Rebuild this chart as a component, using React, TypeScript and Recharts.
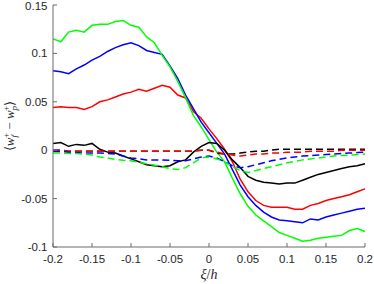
import { LineChart, Line, XAxis, YAxis } from "recharts";

// streamwise position ξ/h
const XI = [
  -0.2, -0.19, -0.18, -0.17, -0.16, -0.15, -0.14, -0.13, -0.12, -0.11, -0.1,
  -0.09, -0.08, -0.07, -0.06, -0.05, -0.04, -0.03, -0.02, -0.01, 0,
  0.01, 0.02, 0.03, 0.04, 0.05, 0.06, 0.07, 0.08, 0.09, 0.1,
  0.11, 0.12, 0.13, 0.14, 0.15, 0.16, 0.17, 0.18, 0.19, 0.2,
];

const GREEN_SOLID = [
  0.115, 0.112, 0.122, 0.124, 0.122, 0.129, 0.13, 0.13, 0.133, 0.134, 0.129,
  0.127, 0.117, 0.111, 0.098, 0.086, 0.071, 0.054, 0.036, 0.024, 0.011,
  -0.002, -0.012, -0.029, -0.045, -0.058, -0.067, -0.073, -0.079, -0.085, -0.088,
  -0.091, -0.094, -0.093, -0.091, -0.09, -0.089, -0.088, -0.083, -0.081, -0.084,
];

const BLUE_SOLID = [
  0.082, 0.081, 0.079, 0.084, 0.088, 0.093, 0.097, 0.102, 0.106, 0.109, 0.111,
  0.108, 0.103, 0.101, 0.099, 0.087, 0.074, 0.057, 0.043, 0.029, 0.018,
  0.007, -0.004, -0.02, -0.036, -0.048, -0.057, -0.064, -0.069, -0.072, -0.073,
  -0.074, -0.075, -0.071, -0.072, -0.069, -0.067, -0.065, -0.063, -0.061, -0.06,
];

const RED_SOLID = [
  0.044, 0.045, 0.044, 0.044, 0.042, 0.045, 0.05, 0.052, 0.055, 0.058, 0.06,
  0.063, 0.061, 0.064, 0.067, 0.065, 0.057, 0.054, 0.04, 0.033, 0.022,
  0.012, 0.001, -0.012, -0.03, -0.043, -0.052, -0.057, -0.059, -0.059, -0.059,
  -0.061, -0.061, -0.057, -0.055, -0.052, -0.05, -0.048, -0.046, -0.043, -0.04,
];

const BLACK_SOLID = [
  0.007, 0.008, 0.004, 0.006, 0.005, 0.007, 0.001, -0.002, -0.003, -0.006, -0.009,
  -0.012, -0.015, -0.016, -0.017, -0.016, -0.012, -0.01, -0.002, 0.004, 0.008,
  0.007, 0.0, -0.01, -0.018, -0.027, -0.031, -0.033, -0.034, -0.035, -0.034,
  -0.034, -0.031, -0.028, -0.025, -0.023, -0.021, -0.019, -0.017, -0.016, -0.014,
];

const BLACK_DASHED = [
  0, 0, -0.001, -0.001, -0.001, -0.001, -0.001, -0.001, -0.001, -0.001, -0.001,
  -0.001, -0.001, -0.001, -0.001, -0.001, -0.001, -0.001, -0.001, 0, 0,
  -0.003, -0.004, -0.004, -0.003, -0.002, -0.001, -0.001, 0, 0.001, 0.001,
  0.001, 0.001, 0.001, 0.001, 0.001, 0.001, 0.001, 0.001, 0.001, 0.001,
];

const RED_DASHED = [
  0, 0, -0.001, -0.001, -0.001, -0.001, -0.001, -0.001, -0.001, -0.001, -0.001,
  -0.001, -0.001, -0.001, -0.001, -0.001, -0.001, -0.001, -0.001, 0, 0,
  -0.002, -0.004, -0.005, -0.006, -0.005, -0.004, -0.004, -0.003, -0.003, -0.002,
  -0.002, -0.002, -0.001, -0.001, -0.001, -0.001, 0, 0, 0, 0,
];

const BLUE_DASHED = [
  -0.001, -0.0015, -0.002, -0.0025, -0.003, -0.003, -0.003, -0.0035, -0.004, -0.006, -0.008,
  -0.009, -0.01, -0.01, -0.01, -0.0105, -0.011, -0.011, -0.009, -0.007, -0.006,
  -0.008, -0.012, -0.016, -0.018, -0.017, -0.015, -0.013, -0.011, -0.0095, -0.008,
  -0.007, -0.006, -0.0055, -0.005, -0.0045, -0.004, -0.0035, -0.003, -0.0025, -0.002,
];

const GREEN_DASHED = [
  -0.003, -0.003, -0.0035, -0.0035, -0.004, -0.005, -0.007, -0.008, -0.0095, -0.0105, -0.011,
  -0.0125, -0.014, -0.0155, -0.017, -0.019, -0.02, -0.018, -0.013, -0.008, -0.007,
  -0.009, -0.012, -0.017, -0.021, -0.023, -0.021, -0.019, -0.017, -0.015, -0.013,
  -0.0115, -0.01, -0.009, -0.008, -0.007, -0.006, -0.0055, -0.005, -0.0045, -0.004,
];

const X_TICKS = [-0.2, -0.15, -0.1, -0.05, 0, 0.05, 0.1, 0.15, 0.2];
const Y_TICKS = [-0.1, -0.05, 0, 0.05, 0.1, 0.15];

const data = XI.map((xi, i) => ({
  xi,
  gs: GREEN_SOLID[i],
  bs: BLUE_SOLID[i],
  rs: RED_SOLID[i],
  ks: BLACK_SOLID[i],
  kd: BLACK_DASHED[i],
  rd: RED_DASHED[i],
  bd: BLUE_DASHED[i],
  gd: GREEN_DASHED[i],
}));

const AXIS_COLOR = "#6b6b6b";
const TEXT_COLOR = "#262626";
const tickFont = { fontSize: 11.5, fill: TEXT_COLOR, fontFamily: "'Liberation Sans', Arial, sans-serif" };
const fmt = (v: number) => String(v);
const blank = () => "";

function YLabel() {
  return (
    <text
      transform="translate(14,126) rotate(-90)"
      textAnchor="middle"
      fontFamily="'Liberation Serif', serif"
      fontSize={13}
      fill={TEXT_COLOR}
    >
      <tspan>⟨</tspan>
      <tspan fontStyle="italic">w</tspan>
      <tspan fontStyle="italic" fontSize={9} dy={3}>f</tspan>
      <tspan fontSize={9} dx={-3} dy={-8}>+</tspan>
      <tspan dy={5}> − </tspan>
      <tspan fontStyle="italic">w</tspan>
      <tspan fontStyle="italic" fontSize={9} dy={3}>p</tspan>
      <tspan fontSize={9} dx={-5} dy={-8}>+</tspan>
      <tspan dy={5}>⟩</tspan>
    </text>
  );
}

function XLabel() {
  return (
    <text x={209} y={279} textAnchor="middle" fontFamily="'Liberation Serif', serif" fontSize={14} fill={TEXT_COLOR}>
      <tspan fontStyle="italic">ξ</tspan>
      <tspan>/</tspan>
      <tspan fontStyle="italic">h</tspan>
    </text>
  );
}

export default function App() {
  const solid = { type: "linear" as const, dot: false, strokeWidth: 1.5, isAnimationActive: false };
  const dashed = { ...solid, strokeDasharray: "7 4" };
  return (
    <div style={{ position: "absolute", left: 0, top: 0, width: 374, height: 284, background: "#fff" }}>
      <LineChart width={374} height={284} data={data} margin={{ top: 5, right: 9, left: 0, bottom: 0 }}>
        <XAxis
          dataKey="xi"
          type="number"
          domain={[-0.2, 0.2]}
          ticks={X_TICKS}
          tickFormatter={fmt}
          height={37}
          tickSize={-4}
          tickMargin={12}
          stroke={AXIS_COLOR}
          tick={tickFont}
          label={<XLabel />}
        />
        <XAxis
          xAxisId="top"
          dataKey="xi"
          type="number"
          orientation="top"
          domain={[-0.2, 0.2]}
          ticks={X_TICKS}
          tickFormatter={blank}
          height={0}
          tickSize={-4}
          stroke={AXIS_COLOR}
        />
        <YAxis
          type="number"
          domain={[-0.1, 0.15]}
          ticks={Y_TICKS}
          tickFormatter={fmt}
          width={53}
          tickSize={-4}
          tickMargin={9.5}
          stroke={AXIS_COLOR}
          tick={tickFont}
          label={<YLabel />}
        />
        <YAxis
          yAxisId="right"
          type="number"
          orientation="right"
          domain={[-0.1, 0.15]}
          ticks={Y_TICKS}
          tickFormatter={blank}
          width={0}
          tickSize={-4}
          stroke={AXIS_COLOR}
        />
        <Line {...solid} dataKey="rs" stroke="#ff0000" />
        <Line {...solid} dataKey="bs" stroke="#0000ff" />
        <Line {...solid} dataKey="gs" stroke="#00ff00" />
        <Line {...solid} dataKey="ks" stroke="#000000" />
        <Line {...dashed} dataKey="kd" stroke="#000000" />
        <Line {...dashed} dataKey="rd" stroke="#ff0000" />
        <Line {...dashed} dataKey="bd" stroke="#0000ff" />
        <Line {...dashed} dataKey="gd" stroke="#00ff00" />
      </LineChart>
    </div>
  );
}
